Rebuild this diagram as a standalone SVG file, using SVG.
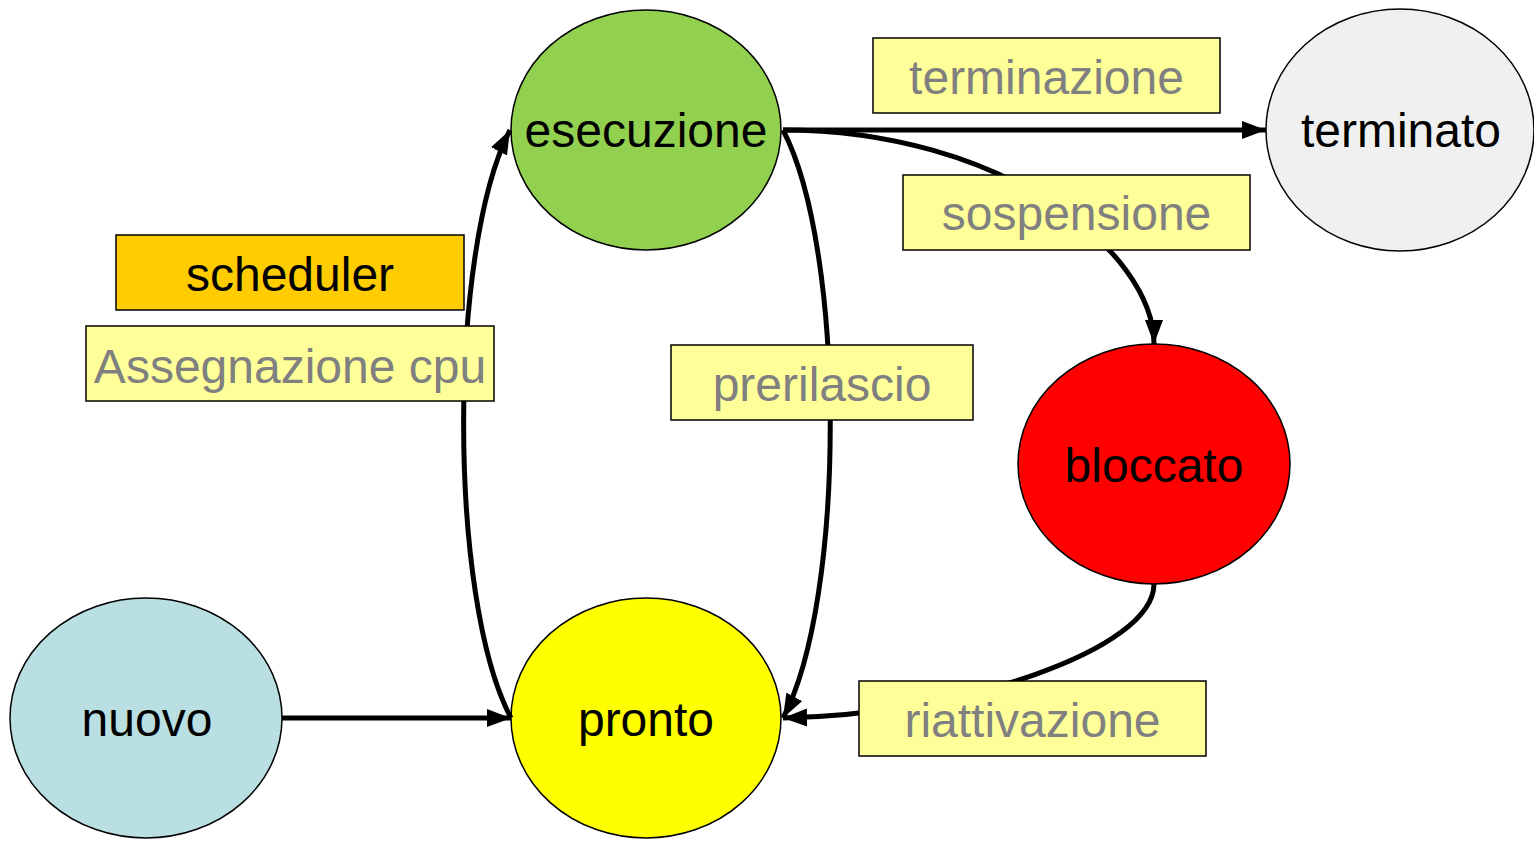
<svg xmlns="http://www.w3.org/2000/svg" width="1534" height="842" viewBox="0 0 1534 842">
<style>
.node{stroke:#000;stroke-width:1.5}
.nt{font-family:"Liberation Sans",Arial,sans-serif;font-size:48px;fill:#000;text-anchor:middle}
.lb{fill:#FFFF99;stroke:#000;stroke-width:1.5}
.lt{font-family:"Liberation Sans",Arial,sans-serif;font-size:48px;fill:#808080;text-anchor:middle}
.c{fill:none;stroke:#000;stroke-width:5;marker-end:url(#ah)}
</style>
<defs>
<marker id="ah" markerUnits="userSpaceOnUse" markerWidth="26" markerHeight="22" viewBox="0 0 26 22" refX="24" refY="11" orient="auto">
<path d="M0,2 L24,11 L0,20 Z" fill="#000"/>
</marker>
</defs>
<rect width="1534" height="842" fill="#fff"/>
<g id="esecuzione"><ellipse class="node" cx="646" cy="130" rx="135" ry="120" fill="#92D050"/><text class="nt" x="646" y="147">esecuzione</text></g>
<g id="terminato"><ellipse class="node" cx="1400" cy="130" rx="134" ry="121" fill="#F0F0F0"/><text class="nt" x="1401" y="147">terminato</text></g>
<g id="bloccato"><ellipse class="node" cx="1154" cy="464" rx="136" ry="120" fill="#FF0000"/><text class="nt" x="1154" y="482">bloccato</text></g>
<g id="nuovo"><ellipse class="node" cx="146" cy="718" rx="136" ry="120" fill="#B9DFE2"/><text class="nt" x="147" y="736">nuovo</text></g>
<g id="pronto"><ellipse class="node" cx="646" cy="718" rx="135" ry="120" fill="#FFFF00"/><text class="nt" x="646" y="736">pronto</text></g>
<g id="connectors">
<path class="c" d="M282,718 L511,718"/>
<path class="c" d="M511,718 C448,600 448,250 510,130"/>
<path class="c" d="M783,130 C846,250 846,600 783,718"/>
<path class="c" d="M783,130 L1266,130"/>
<path class="c" d="M783,130 C1000,130 1154,250 1154,344"/>
<path class="c" d="M1154,584 C1154,650 960,715 783,718"/>
</g>
<g id="label-terminazione"><rect class="lb" x="873" y="38" width="347" height="75"/><text class="lt" x="1046.5" y="94">terminazione</text></g>
<g id="label-sospensione"><rect class="lb" x="903" y="175" width="347" height="75"/><text class="lt" x="1076.5" y="230">sospensione</text></g>
<g id="label-scheduler"><rect x="116" y="235" width="348" height="75" fill="#FFCC00" stroke="#000" stroke-width="1.5"/><text class="nt" x="290" y="291">scheduler</text></g>
<g id="label-assegnazione"><rect class="lb" x="86" y="326" width="408" height="75"/><text class="lt" x="290" y="383">Assegnazione cpu</text></g>
<g id="label-prerilascio"><rect class="lb" x="671" y="345" width="302" height="75"/><text class="lt" x="822" y="401">prerilascio</text></g>
<g id="label-riattivazione"><rect class="lb" x="859" y="681" width="347" height="75"/><text class="lt" x="1032.5" y="737">riattivazione</text></g>
</svg>
